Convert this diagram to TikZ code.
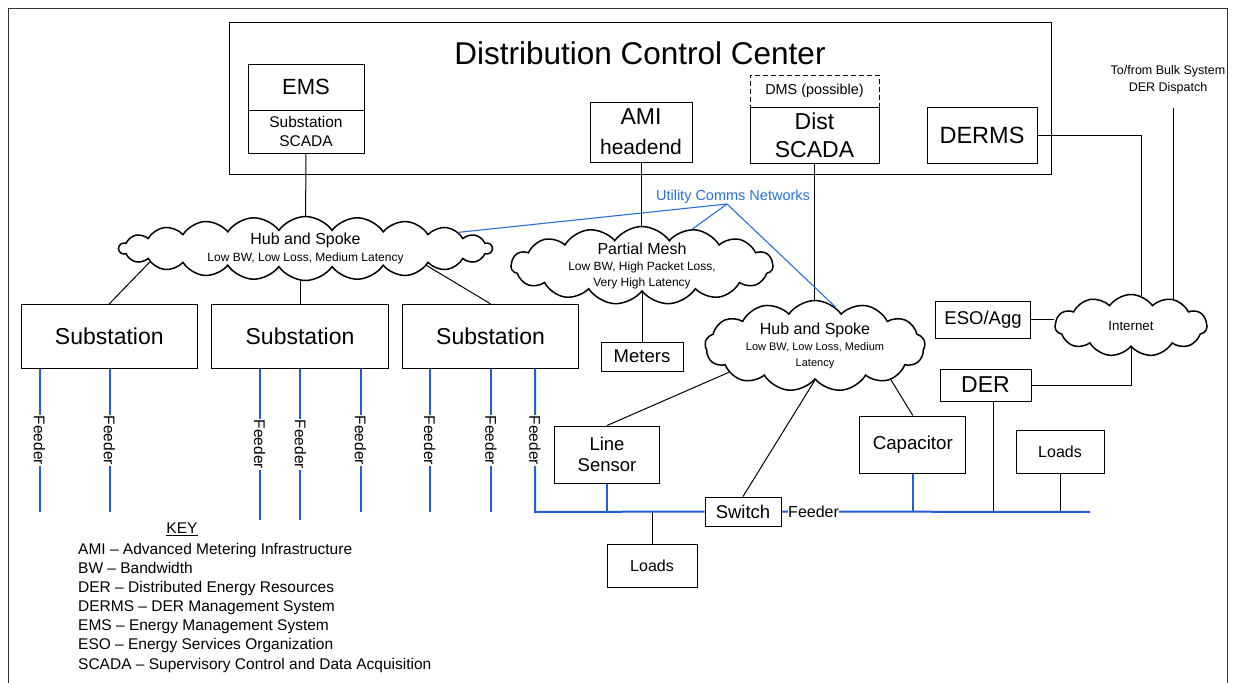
\documentclass[tikz,border=0pt]{standalone}
\usepackage{fontspec}
\setmainfont{Liberation Sans}
\usetikzlibrary{shapes.symbols}
\definecolor{feederblue}{RGB}{34,94,220}
\definecolor{commsblue}{RGB}{40,112,215}
\newcommand{\fsz}[2]{\fontsize{#1}{#2}\selectfont}
\tikzset{
  box/.style={draw, line width=1pt, fill=white, inner sep=0pt, align=center},
  netcloud/.style={draw, cloud, cloud ignores aspect, cloud puff arc=110, line width=1.5pt, fill=white, inner sep=-30pt, align=center},
  feeder/.style={draw=feederblue, line width=2pt},
  flabel/.style={fill=white, inner sep=1pt, rotate=-90, font=\fsz{15.5}{18}},
  comms/.style={draw=commsblue, line width=1.1pt}
}
\begin{document}
\begin{tikzpicture}[x=1pt, y=-1pt]
  \useasboundingbox (0,0) rectangle (1235,683);
  \draw[line width=1pt, black!80] (8,683) -- (8,8) -- (1227,8) -- (1227,683);
  \node[box, minimum width=822, minimum height=152] (ctrl) at (640,98) {};
  \node[font=\fsz{31.5}{36}] (title) at (640,53) {Distribution Control Center};
  \node[box, minimum width=116, minimum height=46, font=\fsz{22}{26}] (ems) at (306,87) {EMS};
  \node[box, minimum width=116, minimum height=43, font=\fsz{15.5}{19}] (emssub) at (306,131.5) {Substation\\SCADA};
  \node[box, minimum width=102, minimum height=60, font=\fsz{21}{30}] (ami) at (641,132) {{\fsz{23}{30}AMI}\\headend};
  \node[box, dashed, dash pattern=on 5pt off 3pt, minimum width=129, minimum height=32, font=\fsz{14.4}{17}] (dms) at (814.5,91) {DMS (possible)};
  \node[box, minimum width=129, minimum height=56, font=\fsz{23}{28}] (dist) at (814.5,135) {Dist\\SCADA};
  \node[box, minimum width=110, minimum height=56, font=\fsz{23.5}{28}] (derms) at (982,135) {DERMS};
  \node[align=center, font=\fsz{12.5}{17}] (bulk) at (1168,80) {To/from Bulk System\\DER Dispatch};
  \coordinate (bulkend) at (1173,108);
  \node[text=commsblue, font=\fsz{14.5}{17}] (comms) at (733,197) {Utility Comms Networks};
  \coordinate (apex) at (727,204);
  \node[netcloud, cloud puffs=22, minimum width=373, minimum height=64, font=\fsz{12}{17}] (hs1) at (305.5,248.5)
    {{\fsz{16}{17}Hub and Spoke}\\Low BW, Low Loss, Medium Latency};
  \node[netcloud, cloud puffs=15, minimum width=262, minimum height=78, font=\fsz{12}{16}] (pmesh) at (642,265.5)
    {{\fsz{16}{16}Partial Mesh}\\Low BW, High Packet Loss,\\Very High Latency};
  \node[netcloud, cloud puffs=13, minimum width=220, minimum height=91, font=\fsz{11}{16}] (hs2) at (815,346)
    {{\fsz{16}{16}Hub and Spoke}\\Low BW, Low Loss, Medium\\Latency};
  \node[netcloud, cloud puffs=11, minimum width=152, minimum height=62, font=\fsz{13.3}{16}] (inet) at (1131,325.5) {Internet};
  \node[box, minimum width=176.6, minimum height=64, font=\fsz{23}{28}] (sub1) at (109.3,336.3) {Substation};
  \node[box, minimum width=176.6, minimum height=64, font=\fsz{23}{28}] (sub2) at (300,336.3) {Substation};
  \node[box, minimum width=176.6, minimum height=64, font=\fsz{23}{28}] (sub3) at (490.5,336.3) {Substation};
  \node[box, minimum width=82, minimum height=29, font=\fsz{18.5}{21}] (meters) at (642,356.5) {Meters};
  \node[box, minimum width=95.5, minimum height=37, font=\fsz{18.5}{21}] (eso) at (983,319.5) {ESO/Agg};
  \node[box, minimum width=91, minimum height=32, font=\fsz{23}{28}] (der) at (985.5,385) {DER};
  \node[box, minimum width=105.5, minimum height=57, font=\fsz{18.5}{21}] (lsens) at (607,454.5) {Line\\Sensor};
  \node[box, minimum width=76, minimum height=29, font=\fsz{18.5}{21}] (sw) at (743,511.5) {Switch};
  \node[box, minimum width=106, minimum height=57, font=\fsz{18.7}{21}] (cap) at (912.8,444.5) {Capacitor};
  \node[box, minimum width=90, minimum height=43, font=\fsz{16}{19}] (loads1) at (652,565.5) {Loads};
  \node[box, minimum width=88, minimum height=43, font=\fsz{16}{19}] (loads2) at (1060,451.5) {Loads};
  \node[font=\fsz{15.5}{19}] (key) at (182,529) {\underline{KEY}};
  \node[anchor=north west, align=left, inner sep=0pt, font=\fsz{15.5}{19.1}] (keylist) at (78,543)
    {AMI – Advanced Metering Infrastructure\\
     BW – Bandwidth\\
     DER – Distributed Energy Resources\\
     DERMS – DER Management System\\
     EMS – Energy Management System\\
     ESO – Energy Services Organization\\
     SCADA – Supervisory Control and Data Acquisition};
  \coordinate (fstart) at (535,512);
  \coordinate (fend) at (1090,512);
  \begin{scope}[line width=1pt]
    \draw (emssub) to (hs1);
    \draw (hs1.185.4) to (sub1.north);
    \draw (sub2.north) to (sub2.north |- hs1.south);
    \draw (hs1.352.4) to (sub3.north);
    \draw (ami.south) to (ami.south |- pmesh.north);
    \draw (meters.north) to (meters.north |- pmesh.south);
    \draw (dist.south) to (dist.south |- hs2.north);
    \draw (hs2.197) to (lsens.north);
    \draw (hs2.south) to (sw.north);
    \draw (hs2.336) to (cap.north);
    \draw (derms.east) -| (inet.70);
    \draw (bulkend) to (bulkend |- inet.32);
    \draw (eso.east) to (eso.east -| inet.west);
    \draw (inet.south) |- (der.east);
    \draw (loads1.north) to (loads1.north |- fend);
    \draw ([xshift=7.5]der.south) to ([xshift=7.5]der.south |- fend);
    \draw (loads2.south) to (loads2.south |- fend);
  \end{scope}
  \begin{scope}[comms]
    \draw (apex) to (hs1);
    \draw (apex) to (pmesh);
    \draw (apex) to (hs2.62);
  \end{scope}
  \foreach \x/\s/\y [count=\i] in {39.5/sub1/512, 109.5/sub1/512, 259.7/sub2/520, 300.4/sub2/520,
      360.5/sub2/512, 429.6/sub3/512, 491/sub3/512}
    \draw[feeder] (\x,0 |- \s.south) -- node[flabel] (feed\i) {Feeder} (\x,\y);
  \draw[feeder] (fstart |- sub3.south) -- node[flabel] (feed8) {Feeder} (fstart) -- (sw.west);
  \draw[feeder] (sw.east) -- node[pos=0.104, fill=white, inner sep=0.5pt, font=\fsz{16}{18}] (feed9) {Feeder} (fend);
  \draw[feeder] (lsens.south) -- (lsens.south |- fend);
  \draw[feeder] (cap.south) -- (cap.south |- fend);
\end{tikzpicture}
\end{document}
